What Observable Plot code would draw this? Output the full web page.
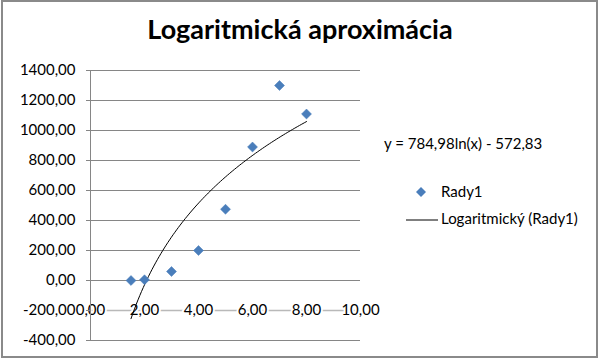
<!DOCTYPE html>
<html>
<head>
<meta charset="utf-8">
<script src="https://cdn.jsdelivr.net/npm/d3@7"></script>
<script src="https://cdn.jsdelivr.net/npm/@observablehq/plot@0.6"></script>
<style>
  html, body { margin: 0; padding: 0; background: #fff; }
  #wrap { position: relative; width: 600px; height: 359px; overflow: hidden; font-family: Lato, "Open Sans", sans-serif; }
  #frame { position: absolute; left: 1px; top: 0px; width: 597px; height: 358px; box-sizing: border-box; border: 2px solid #8a8a8a; }
  #chart { position: absolute; left: 0; top: 0; }
  #title { position: absolute; left: 0; width: 600px; top: 13px; line-height: 32px; text-align: center; font-weight: bold; font-size: 27px; color: #000; white-space: nowrap; }
  .lbl { position: absolute; font-size: 15px; color: #000; white-space: nowrap; line-height: 16px; }
</style>
</head>
<body>
<div id="wrap">
  <div id="frame"></div>
  <div id="chart"></div>
  <div id="title"></div>
  <div class="lbl" id="eq" style="left:384px; top:135px;"></div>
  <div class="lbl" id="leg1" style="left:412px; top:183px;"></div>
  <div class="lbl" id="leg2" style="left:405px; top:210px;"></div>
</div>
<script>
// ---- data ----
const titleText = "Logaritmická aproximácia";
const seriesName = "Rady1";
const trendName = "Logaritmický (Rady1)";
const xValues = [1.5, 2, 3, 4, 5, 6, 7, 8];
const yValues = [0, 5, 60, 200, 475, 890, 1300, 1110];
const xTicks = [0, 2, 4, 6, 8, 10];
const yTicks = [-400, -200, 0, 200, 400, 600, 800, 1000, 1200, 1400];
const xAxisCrossing = -200;
const trendSlope = 784.98;
const trendIntercept = -572.83;

const fmt = d => d.toFixed(2).replace(".", ",");
const points = xValues.map((x, i) => ({x, y: yValues[i]}));

// trendline sampled from the fitted logarithmic equation over the data range
const [xMin, xMax] = d3.extent(xValues);
const trend = d3.range(0, 101).map(i => {
  const x = xMin + (xMax - xMin) * i / 100;
  return {x, y: trendSlope * Math.log(x) + trendIntercept};
});

const blue = "#4a7ebb";
const gridDark = "#868686";
const gridLight = "#b9b9b9";

const plot = Plot.plot({
  width: 600,
  height: 359,
  marginTop: 70,
  marginBottom: 19,
  marginLeft: 90,
  marginRight: 240,
  style: {fontFamily: "Lato, 'Open Sans', sans-serif", fontSize: "15px", background: "transparent", color: "#000"},
  x: {domain: [0, 10], axis: null},
  y: {domain: [-400, 1400]},
  marks: [
    Plot.ruleY(yTicks, {stroke: gridDark, strokeWidth: 1}),
    Plot.ruleY([xAxisCrossing], {stroke: gridLight, strokeWidth: 1.5}),
    Plot.text(xTicks, {x: d => d, y: () => xAxisCrossing, text: fmt, fill: "#000", stroke: "white", strokeWidth: 4, fontSize: 15}),
    Plot.ruleX([0], {stroke: gridDark, strokeWidth: 1}),
    Plot.axisY(yTicks, {tickSize: 4, tickPadding: 11, tickFormat: fmt, stroke: gridDark, fill: "#000", fontSize: 15, label: null}),
    Plot.line(trend, {x: "x", y: "y", stroke: "#000", strokeWidth: 1, curve: "linear"}),
    Plot.dot(points, {x: "x", y: "y", symbol: "diamond2", r: 4.5, fill: blue, stroke: blue, strokeWidth: 0.5})
  ]
});
document.getElementById("chart").appendChild(plot);

document.getElementById("title").textContent = titleText;
document.getElementById("eq").textContent =
  "y = " + fmt(trendSlope) + "ln(x) - " + fmt(-trendIntercept);

const leg1 = document.getElementById("leg1");
leg1.innerHTML = `<svg width="18" height="14" style="vertical-align:-2px;margin-right:11px"><path d="M9,2L14,7L9,12L4,7Z" fill="${blue}"/></svg>`;
leg1.appendChild(document.createTextNode(seriesName));
const leg2 = document.getElementById("leg2");
leg2.innerHTML = `<svg width="34" height="14" style="vertical-align:-2px;margin-right:2px"><line x1="1" x2="33" y1="8" y2="8" stroke="#000" stroke-width="1"/></svg>`;
leg2.appendChild(document.createTextNode(trendName));
</script>
</body>
</html>
